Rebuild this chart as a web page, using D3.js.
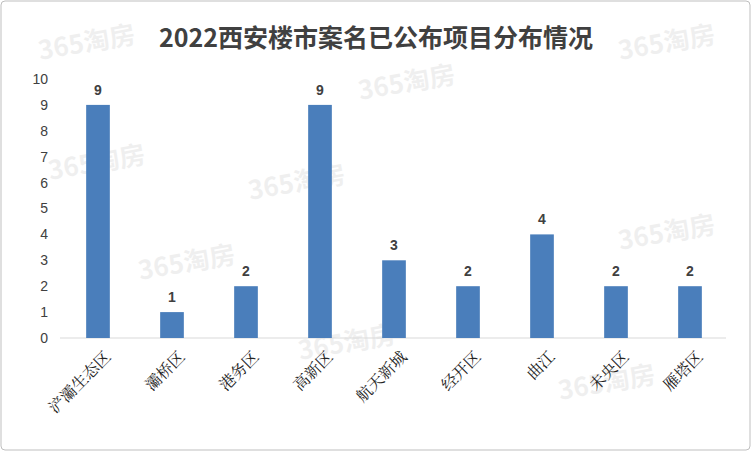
<!DOCTYPE html>
<html><head><meta charset="utf-8">
<script src="https://cdn.jsdelivr.net/npm/d3@7"></script>
<style>body{margin:0;background:#fff}</style>
</head><body>
<script>
var categories = ["浐灞生态区","灞桥区","港务区","高新区","航天新城","经开区","曲江","未央区","雁塔区"];
var values = [9,1,2,9,3,2,4,2,2];
var yTicks = [0,1,2,3,4,5,6,7,8,9,10];

var svg = d3.select("body").append("svg").attr("width",752).attr("height",452);
svg.append("rect").attr("x",1).attr("y",1).attr("width",749).attr("height",449)
	.attr("rx",4).attr("fill","#fff").attr("stroke","#bfbfbf");

// watermarks
var marks = [[40,60],[360,100],[250,200],[140,280],[620,250],[300,360],[560,400],[50,180],[620,60]];
svg.append("g").selectAll("text").data(marks).enter().append("text")
	.attr("x",d=>d[0]).attr("y",d=>d[1]).attr("transform",d=>"rotate(-10,"+d[0]+","+d[1]+")")
	.attr("font-family","Noto Sans CJK SC").attr("font-size",26).attr("font-weight","bold")
	.attr("fill","#000").attr("opacity",0.06).text("365淘房");

svg.append("text").attr("x",376).attr("y",47).attr("text-anchor","middle")
	.attr("font-family","Noto Sans CJK SC").attr("font-weight","bold").attr("font-size",25)
	.attr("fill","#404040").text("2022西安楼市案名已公布项目分布情况");

var x = d3.scaleBand().domain(categories).range([61,727]).paddingInner(0.68).paddingOuter(0.34);
var y = d3.scaleLinear().domain([0,10]).range([338,79]);

var yAxis = svg.append("g").attr("transform","translate(60,0)")
	.call(d3.axisLeft(y).tickValues(yTicks).tickSize(0).tickPadding(12));
yAxis.select(".domain").remove();
yAxis.selectAll("text").attr("font-size",14).attr("font-family","Liberation Sans").attr("fill","#404040");

svg.append("line").attr("x1",60).attr("x2",726).attr("y1",y(0)).attr("y2",y(0)).attr("stroke","#d9d9d9");

svg.selectAll(".bar").data(values).enter().append("rect")
	.attr("x",(d,i)=>x(categories[i])).attr("width",x.bandwidth())
	.attr("y",d=>y(d)).attr("height",d=>y(0)-y(d)).attr("fill","#4a7ebb");

svg.selectAll(".lbl").data(values).enter().append("text")
	.attr("x",(d,i)=>x(categories[i])+x.bandwidth()/2).attr("y",d=>y(d)-10)
	.attr("text-anchor","middle").attr("font-size",14).attr("font-weight","bold")
	.attr("font-family","Liberation Sans").attr("fill","#404040").text(d=>d);

svg.selectAll(".cat").data(categories).enter().append("text")
	.attr("transform",d=>"translate("+(x(d)+x.bandwidth()/2+6)+",350) rotate(-45)")
	.attr("text-anchor","end").attr("dy","0.7em").attr("font-size",16)
	.attr("font-family","Noto Serif CJK SC, Noto Sans CJK SC").attr("fill","#222").text(d=>d);
</script>
</body></html>
